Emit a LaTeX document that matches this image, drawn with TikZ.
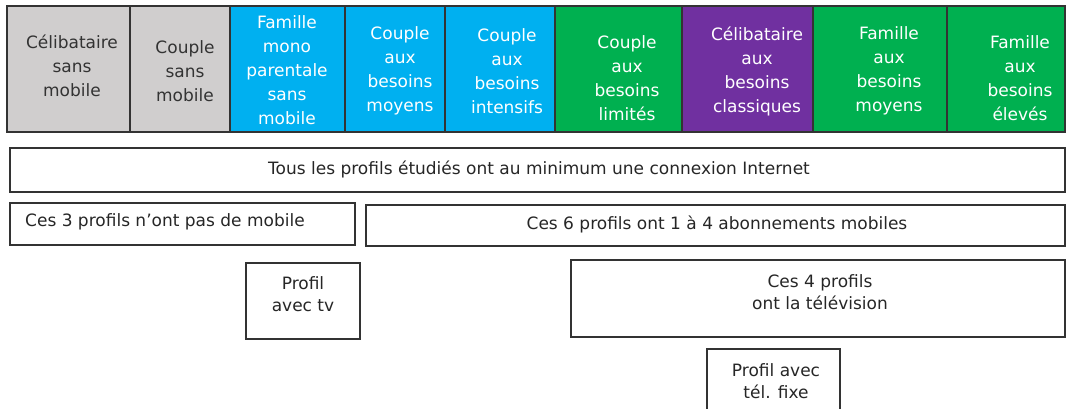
\documentclass[tikz,border=0pt]{standalone}
\usepackage{fontspec}
\setmainfont{DejaVu Sans}
\definecolor{gris}{HTML}{D0CECE}
\definecolor{bleu}{HTML}{00B0F0}
\definecolor{vert}{HTML}{00B050}
\definecolor{violet}{HTML}{7030A0}
\tikzset{
  cadre/.style={draw=black!80, line width=1.2pt},
  titre/.style={align=center, font=\fontsize{17}{24}\selectfont, inner sep=0pt},
  blanc/.style={titre, text=white},
  sombre/.style={titre, text=black!80},
  legende/.style={align=center, font=\fontsize{17}{22}\selectfont, text=black!85, inner sep=0pt},
}
\begin{document}
\begin{tikzpicture}[x=1pt, y=-1pt]
\useasboundingbox (0,0) rectangle (1068,409);
\clip (0,0) rectangle (1068,409);

% ligne des profils
\draw[cadre, fill=gris] (7,6) rectangle (130,132);
\draw[cadre, fill=gris] (130,6) rectangle (230,132);
\draw[cadre, fill=bleu] (230,6) rectangle (345,132);
\draw[cadre, fill=bleu] (345,6) rectangle (445,132);
\draw[cadre, fill=bleu] (445,6) rectangle (555,132);
\draw[cadre, fill=vert] (555,6) rectangle (682,132);
\draw[cadre, fill=violet] (682,6) rectangle (813,132);
\draw[cadre, fill=vert] (813,6) rectangle (947,132);
\draw[cadre, fill=vert] (947,6) rectangle (1065,132);

\node[sombre] (celsm) at (72,66) {Célibataire\\sans\\mobile};
\node[sombre] (cousm) at (185,71) {Couple\\sans\\mobile};
\node[blanc] (famsm) at (287,70) {Famille\\mono\\parentale\\sans\\mobile};
\node[blanc] (coumoy) at (400,71) {Couple\\aux\\besoins\\moyens};
\node[blanc] (couint) at (507,71) {Couple\\aux\\besoins\\intensifs};
\node[blanc] (coulim) at (627,78) {Couple\\aux\\besoins\\limités};
\node[blanc] (celcla) at (757,71) {Célibataire\\aux\\besoins\\classiques};
\node[blanc] (fammoy) at (889,71) {Famille\\aux\\besoins\\moyens};
\node[blanc] (famele) at (1020,78) {Famille\\aux\\besoins\\élevés};

% regroupements
\draw[cadre] (10,148) rectangle (1065,192);
\node[legende] (internet) at (539,169) {Tous les profils étudiés ont au minimum une connexion Internet};

\draw[cadre] (10,203) rectangle (355,245);
\node[legende, anchor=west] (sansmob) at (25,222) {Ces 3 profils n’ont pas de mobile};

\draw[cadre] (366,205) rectangle (1065,246);
\node[legende] (avecmob) at (717,224) {Ces 6 profils ont 1 à 4 abonnements mobiles};

\draw[cadre] (246,263) rectangle (360,339);
\node[legende] (tv) at (303,294) {Profil\\avec tv};

\draw[cadre] (571,260) rectangle (1065,337);
\node[legende] (television) at (820,292) {Ces 4 profils\\ont la télévision};

\draw[cadre] (707,415) -- (707,349) -- (840,349) -- (840,415);
\node[legende] (fixe) at (776,381) {Profil avec\\tél. fixe};
\end{tikzpicture}
\end{document}
